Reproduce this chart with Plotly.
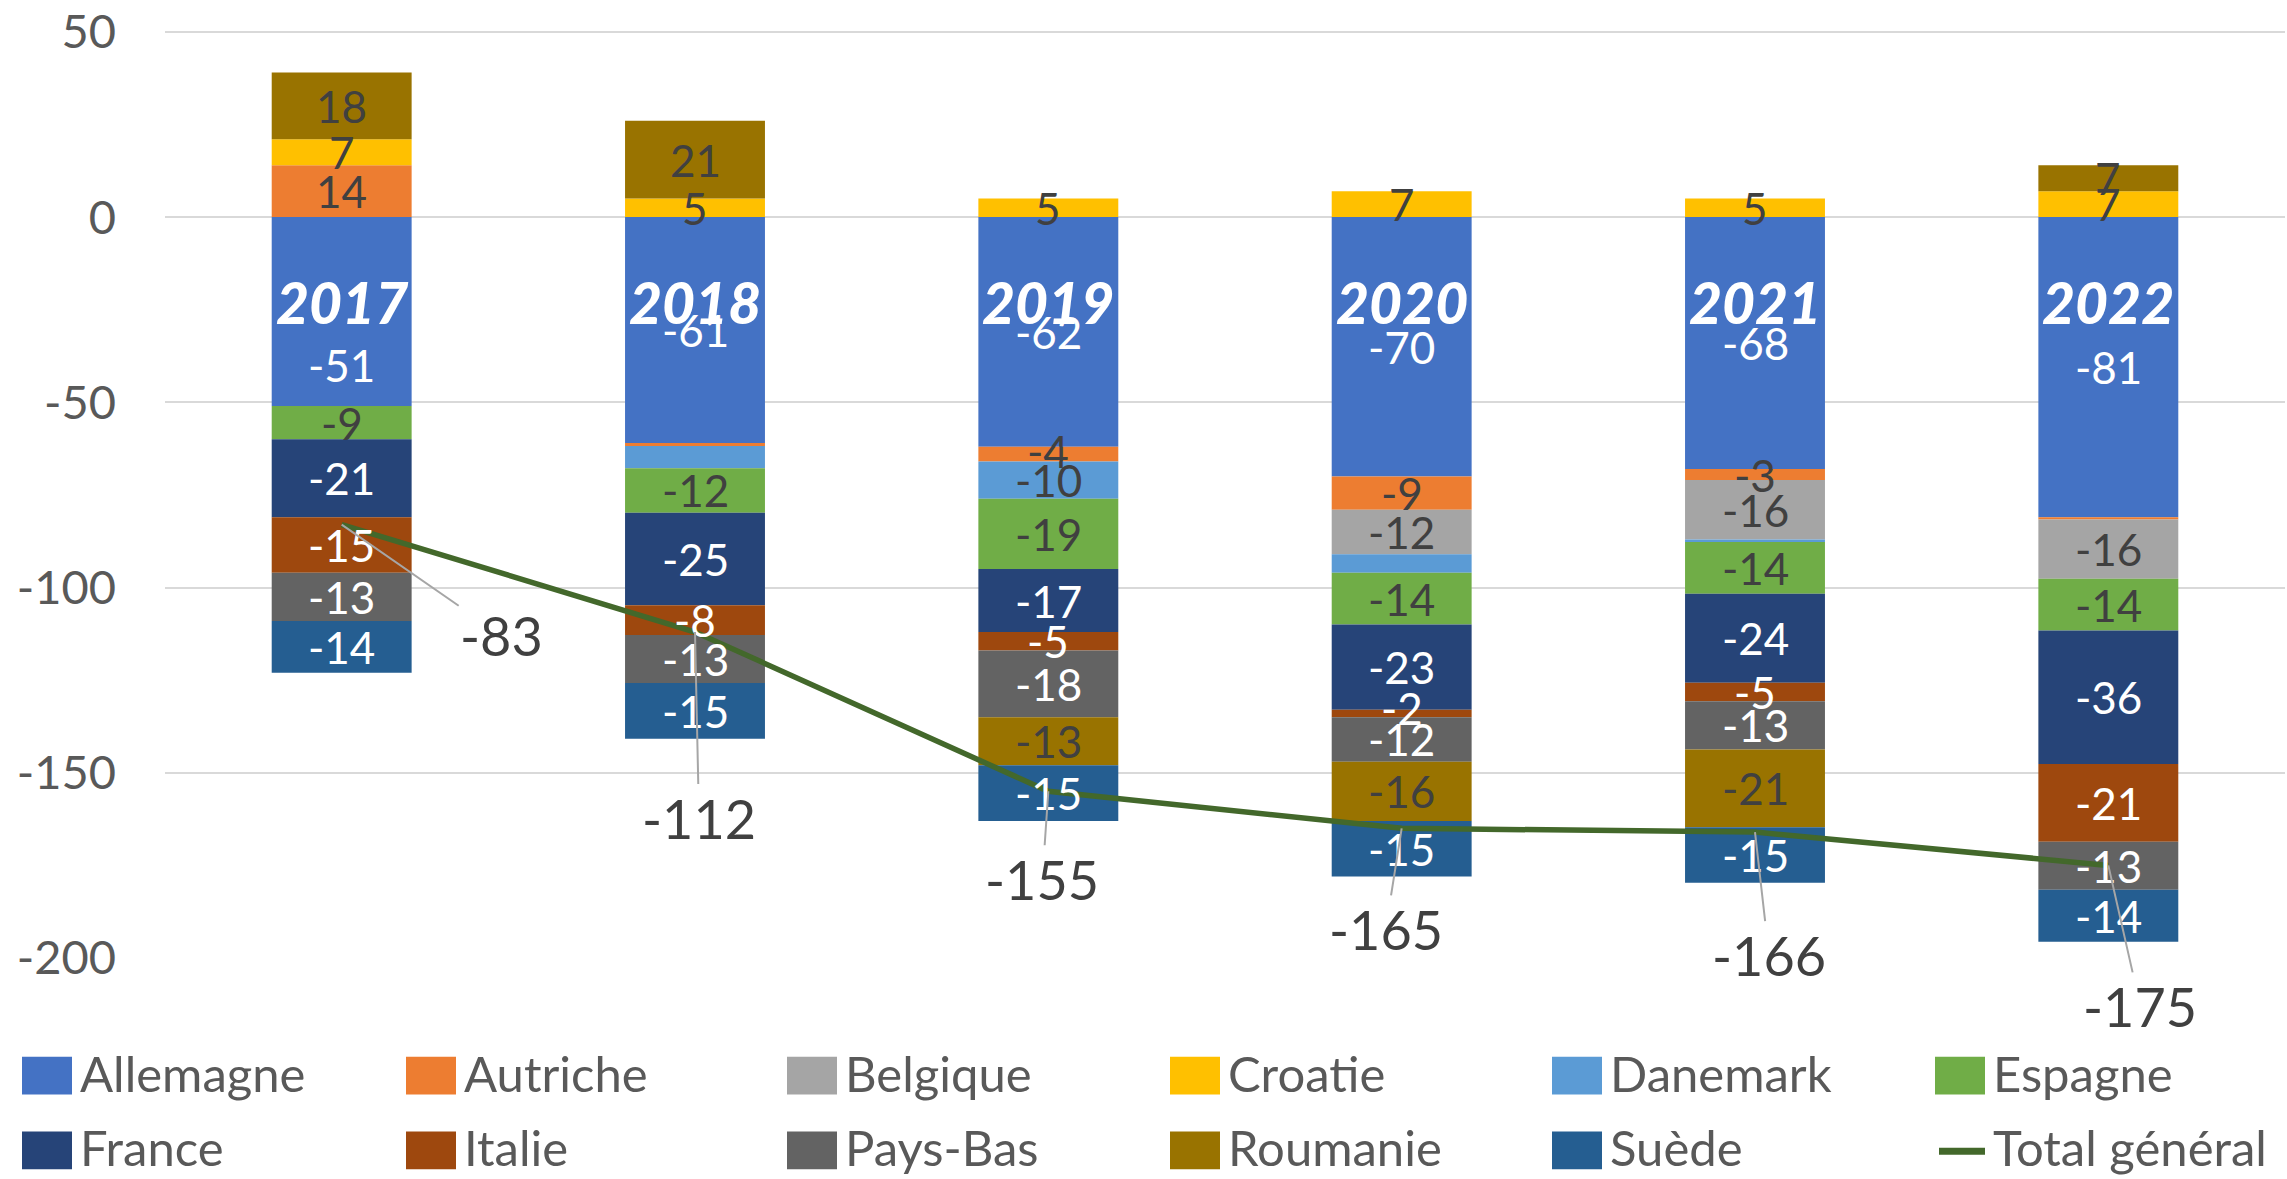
import plotly.graph_objects as go

# ---------------------------------------------------------------------------
# data
years = ["2017", "2018", "2019", "2020", "2021", "2022"]

allemagne = [-51, -61, -62, -70, -68, -81]
autriche = [14, -0.8, -4, -9, -3, -0.6]
belgique = [0, 0, 0, -12, -16, -16]
croatie = [7, 5, 5, 7, 5, 7]
danemark = [0, -6, -10, -5, -0.7, 0]
espagne = [-9, -12, -19, -14, -14, -14]
france = [-21, -25, -17, -23, -24, -36]
italie = [-15, -8, -5, -2, -5, -21]
pays_bas = [-13, -13, -18, -12, -13, -13]
roumanie = [18, 21, -13, -16, -21, 7]
suede = [-14, -15, -15, -15, -15, -14]
total_general = [-83, -112, -155, -165, -166, -175]

y_ticks = [50, 0, -50, -100, -150, -200]

countries = ["Allemagne", "Autriche", "Belgique", "Croatie", "Danemark", "Espagne",
             "France", "Italie", "Pays-Bas", "Roumanie", "Suède"]
series = [allemagne, autriche, belgique, croatie, danemark, espagne,
          france, italie, pays_bas, roumanie, suede]
colors = ["#4472C4", "#ED7D31", "#A5A5A5", "#FFC000", "#5B9BD5", "#70AD47",
          "#264478", "#9E480E", "#636363", "#997300", "#255E91"]
line_color = "#43682B"

# ---------------------------------------------------------------------------
W, H = 2287, 1179
L, R, T, B = 165, 2, 27, 221
PW, PH = W - L - R, H - T - B

FONT = "Lato"
DARK = "#404040"
GREY = "#595959"
white_labels = {"Allemagne", "France", "Italie", "Pays-Bas", "Suède"}
# labels that were removed in the original chart
hidden = {("Autriche", 1), ("Autriche", 5), ("Danemark", 1), ("Danemark", 3), ("Danemark", 4)}
# manual nudges of a few labels (in data units)
nudge = {("Allemagne", 0): -14.5, ("Italie", 3): 1.5, ("Autriche", 2): 0.8}

fig = go.Figure()

for name, vals, col in zip(countries, series, colors):
    fig.add_trace(go.Bar(x=years, y=vals, name=name, marker_color=col,
                         marker_line_width=0, showlegend=False))

fig.add_trace(go.Scatter(x=years, y=total_general, name="Total général", mode="lines",
                         line=dict(color=line_color, width=5.5), showlegend=False))

annotations = []

# segment labels, centred in each stacked piece
pos_base = [0] * len(years)
neg_base = [0] * len(years)
for name, vals in zip(countries, series):
    for i, v in enumerate(vals):
        if v >= 0:
            mid = pos_base[i] + v / 2
            pos_base[i] += v
        else:
            mid = neg_base[i] + v / 2
            neg_base[i] += v
        if v == 0 or (name, i) in hidden:
            continue
        annotations.append(dict(
            x=i, y=mid + nudge.get((name, i), 0), text=str(round(v)),
            showarrow=False, xanchor="center", yanchor="middle",
            font=dict(family=FONT, size=44,
                      color="white" if name in white_labels else DARK)))

# year labels inside the bars
for i, yr in enumerate(years):
    annotations.append(dict(
        x=i, y=-23, text=yr, showarrow=False,
        font=dict(family=FONT, size=57, color="white", weight=900, style="italic")))

# total labels with leader lines
offsets = [(160, 111), (4, 186), (-6, 88), (-16, 101), (14, 123), (32, 141)]
for i, (tot, (ox, oy)) in enumerate(zip(total_general, offsets)):
    annotations.append(dict(
        x=i, y=tot, text=str(tot), showarrow=True, arrowhead=0,
        arrowwidth=2, arrowcolor="#A6A6A6", ax=ox, ay=oy, standoff=0,
        font=dict(family=FONT, size=54, color=DARK)))


# legend drawn by hand (two rows of six entries)
def px_x(px):
    return (px - L) / PW


def px_y(py):
    return (T + PH - py) / PH


col_x = [22, 406, 787, 1170, 1552, 1935]
row_y = [1073, 1148]
shapes = []
entries = list(zip(countries, colors)) + [("Total général", line_color)]
for k, (name, col) in enumerate(entries):
    cx = col_x[k % 6]
    cy = row_y[k // 6]
    if name == "Total général":
        shapes.append(dict(type="line", xref="paper", yref="paper",
                           x0=px_x(cx + 4), x1=px_x(cx + 50), y0=px_y(cy + 4), y1=px_y(cy + 4),
                           line=dict(color=col, width=7)))
    else:
        shapes.append(dict(type="rect", xref="paper", yref="paper",
                           x0=px_x(cx), x1=px_x(cx + 50), y0=px_y(cy + 22), y1=px_y(cy - 16),
                           fillcolor=col, line_width=0))
    annotations.append(dict(
        xref="paper", yref="paper", x=px_x(cx + 56), y=px_y(cy), text=name,
        showarrow=False, xanchor="left", yanchor="middle",
        font=dict(family=FONT, size=49, color=GREY)))

fig.update_layout(
    width=W, height=H,
    margin=dict(l=L, r=R, t=T, b=B),
    barmode="relative", bargap=0.604,
    plot_bgcolor="white", paper_bgcolor="white",
    font=dict(family=FONT, color=GREY),
    annotations=annotations, shapes=shapes,
    showlegend=False,
)
fig.update_xaxes(type="category", showticklabels=False, showgrid=False, zeroline=False,
                 showline=False, range=[-0.5, 5.5])
fig.update_yaxes(range=[-200, 50.5], tickvals=y_ticks, ticktext=[str(v) for v in y_ticks],
                 showgrid=True, gridcolor="#D9D9D9", gridwidth=2,
                 zeroline=False, showline=False, ticks="", ticklabelstandoff=48,
                 ticklabeloverflow="allow",
                 tickfont=dict(family=FONT, size=47, color=GREY))

fig.write_html("out.html", config={"displayModeBar": False},
               post_script="document.body.style.margin='0';")
